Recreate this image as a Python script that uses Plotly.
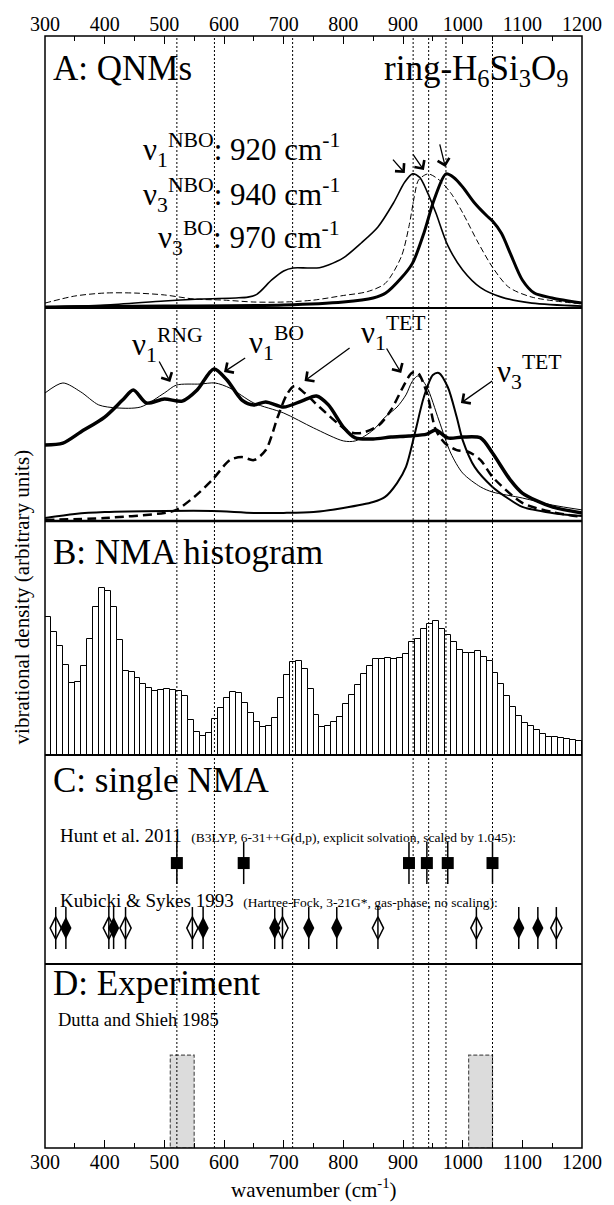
import plotly.graph_objects as go

W, H = 614, 1205
ML, MR, MT, MB = 45, 23, 36, 57
PH = H - MT - MB
FONT = "Liberation Serif, Times New Roman, Times, serif"

def py(pix):
    return (H - MB - pix) / PH

# ---------------- data ----------------
# Panel A (upper): QNM spectra
nbo1_x = [300, 400, 500, 560, 620, 640, 655, 680, 700, 716, 740, 760, 775, 800, 830, 858, 884, 903, 916,
          928, 940, 955, 975, 1000, 1030, 1065, 1116, 1200]
nbo1_y = [0.4, 1.1, 2.6, 3.3, 3.7, 4.0, 5.0, 10.3, 13.6, 14.7, 14.7, 14.8, 15.8, 18.4, 23.9, 29.8, 38.6, 46.3, 49.3,
          48, 43, 35, 23, 14, 7.5, 4, 1.8, 0.7]
nbo3_x = [300, 350, 400, 450, 500, 550, 600, 650, 700, 750, 800, 840, 870, 897, 910, 919, 926, 942, 961, 981,
          1000, 1026, 1050, 1077, 1116, 1200]
nbo3_y = [1.8, 4.4, 5.5, 5.5, 4.8, 3.3, 2.9, 2.2, 2.2, 2.9, 4.6, 6.0, 9.0, 18.8, 30, 41, 47, 49.3, 47, 42,
          35, 24, 15, 7.7, 4, 1.5]
bo3_x = [300, 500, 700, 800, 850, 871, 897, 916, 935, 952, 972, 985, 1000, 1020, 1040, 1050, 1065, 1080, 1100,
         1120, 1150, 1200]
bo3_y = [0.4, 0.7, 1.1, 2.2, 3.7, 5.5, 11, 16.5, 27.5, 39.7, 49.3, 48, 44.5, 38.6, 34, 32, 27.5, 20, 10.3,
         5.5, 3.7, 1.8]

# Panel A (lower): four QNM spectra
rng_x = [300, 330, 360, 390, 420, 460, 500, 520, 560, 585, 610, 650, 700, 750, 800, 820, 850, 870, 890, 905,
         915, 925, 940, 960, 980, 1000, 1030, 1050, 1100, 1150, 1200]
rng_y = [60.1, 64.8, 60.6, 54.5, 53.1, 53.5, 60.1, 63.8, 64.3, 64.8, 62.4, 55.4, 50.7, 43.7, 37.6, 37.6, 42.7,
         48.8, 53.5, 59.2, 65.3, 68.1, 62.9, 47.4, 31.9, 22.5, 16, 13.6, 10.8, 7.5, 5.2]
bo1_x = [300, 330, 360, 400, 430, 448, 470, 500, 530, 555, 583, 605, 630, 650, 670, 700, 730, 755, 775, 800,
         820, 850, 880, 910, 940, 955, 975, 1000, 1030, 1050, 1080, 1100, 1150, 1200]
bo1_y = [35.7, 36.6, 41.8, 48.8, 56.8, 61.5, 55.4, 57.3, 56.3, 61.5, 71.4, 66.2, 56.8, 54.5, 55.9, 53.5, 56.3,
         58.7, 54.5, 44.1, 39, 38.5, 39.4, 39.9, 40.8, 42.7, 39, 39.4, 39, 31.9, 19.2, 13.1, 6.6, 3.8]
tet1_x = [300, 400, 500, 520, 550, 580, 610, 630, 650, 670, 690, 705, 718, 735, 760, 790, 810, 830, 860, 880,
          900, 915, 925, 940, 955, 970, 990, 1010, 1030, 1050, 1100, 1150, 1200]
tet1_y = [0.5, 1.4, 3.8, 5.2, 11.3, 19.2, 28.6, 30, 28.6, 33.3, 48.8, 59.2, 63.4, 60.1, 53.5, 46, 41.8, 41.3,
          45.1, 52.1, 62.9, 69.5, 69.5, 60.1, 42.7, 36.6, 33.3, 32.4, 28.6, 20.7, 8.5, 4.2, 1.9]
tet3_x = [300, 350, 400, 500, 580, 650, 700, 750, 800, 850, 870, 890, 905, 920, 935, 950, 960, 975, 990, 1000,
          1020, 1050, 1075, 1100, 1150, 1200]
tet3_y = [1.4, 3.3, 4.2, 4.7, 4.7, 3.8, 3.8, 4.2, 6.1, 8.9, 11.3, 17.8, 25.4, 41.3, 58.2, 68.5, 69.5, 62.9,
          48.8, 38, 25.4, 16, 10.8, 6.6, 3.8, 2.3]

# Panel B: NMA histogram (10 cm-1 bins, left edges)
hist_left = list(range(300, 1200, 10))
hist_counts = [415, 370, 327, 270, 215, 220, 267, 347, 445, 500, 493, 443, 345, 253, 250, 230, 212, 200, 193, 195,
               197, 195, 193, 177, 105, 68, 58, 65, 107, 140, 170, 188, 187, 155, 127, 100, 85, 88, 111, 170,
               240, 278, 283, 258, 197, 120, 85, 87, 100, 115, 152, 180, 210, 243, 268, 288, 288, 290, 287, 290,
               302, 340, 347, 377, 393, 403, 377, 360, 340, 315, 307, 305, 313, 295, 283, 245, 212, 177, 145, 118,
               97, 88, 75, 62, 55, 53, 50, 47, 45, 43]

# Panel C: single normal-mode analyses
hunt_wn = [521, 633, 910, 940, 975, 1050]
kub_open_wn = [318, 407, 435, 547, 698, 858, 1023, 1157]
kub_filled_wn = [335, 415, 565, 685, 742, 789, 1094, 1126]

# Panel D: experiment bands
exp_lo = [510, 1010]
exp_hi = [550, 1050]

# reference (dotted) lines
ref_lines = [521, 584, 715, 917, 943, 972, 1050]

tick_vals = list(range(300, 1201, 100))
tick_text = [str(v) for v in tick_vals]

# ---------------- figure ----------------
fig = go.Figure()

def line(x, y, yaxis, width, dash="solid"):
    fig.add_trace(go.Scatter(x=x, y=y, mode="lines", xaxis="x", yaxis=yaxis,
                             line=dict(color="black", width=width, dash=dash, shape="spline", smoothing=0.8),
                             showlegend=False, hoverinfo="skip"))

line(nbo3_x, nbo3_y, "y", 1.0, "6px,3px")
line(nbo1_x, nbo1_y, "y", 1.6)
line(bo3_x, bo3_y, "y", 3.0)

line(rng_x, rng_y, "y2", 1.0)
line(tet3_x, tet3_y, "y2", 2.0)
line(tet1_x, tet1_y, "y2", 2.5, "9px,5px")
line(bo1_x, bo1_y, "y2", 3.5)

fig.add_trace(go.Bar(x=[v + 5 for v in hist_left], y=hist_counts, width=10, xaxis="x", yaxis="y3",
                     marker=dict(color="white", line=dict(color="black", width=1)),
                     showlegend=False, hoverinfo="skip"))

HUNT_Y, KUB_Y = 0.483, 0.172
for wn_list, yv in ((hunt_wn, HUNT_Y), (kub_open_wn + kub_filled_wn, KUB_Y)):
    fig.add_trace(go.Scatter(x=wn_list, y=[yv] * len(wn_list), mode="markers", xaxis="x", yaxis="y4",
                             marker=dict(symbol="line-ns", size=30, line=dict(color="black", width=1.5)),
                             showlegend=False, hoverinfo="skip"))
fig.add_trace(go.Scatter(x=hunt_wn, y=[HUNT_Y] * len(hunt_wn), mode="markers", xaxis="x", yaxis="y4",
                         marker=dict(symbol="square", size=12, color="black"),
                         showlegend=False, hoverinfo="skip"))
fig.add_trace(go.Scatter(x=kub_open_wn, y=[KUB_Y] * len(kub_open_wn), mode="markers", xaxis="x", yaxis="y4",
                         marker=dict(symbol="diamond-tall-open", size=16, color="black", line=dict(width=1.5)),
                         showlegend=False, hoverinfo="skip"))
fig.add_trace(go.Scatter(x=kub_filled_wn, y=[KUB_Y] * len(kub_filled_wn), mode="markers", xaxis="x", yaxis="y4",
                         marker=dict(symbol="diamond-tall", size=16, color="black", line=dict(width=0)),
                         showlegend=False, hoverinfo="skip"))

# dummy trace for the top axis
fig.add_trace(go.Scatter(x=[300, 1200], y=[0, 0], xaxis="x2", yaxis="y", mode="markers",
                         marker=dict(opacity=0), showlegend=False, hoverinfo="skip"))

shapes = []
shapes.append(dict(type="rect", xref="paper", yref="paper", x0=0, x1=1, y0=0, y1=1,
                   line=dict(color="black", width=1.5), layer="above"))
for pix, w in ((308, 2), (521, 2.5), (755, 2), (964, 2)):
    shapes.append(dict(type="line", xref="paper", yref="paper", x0=0, x1=1, y0=py(pix), y1=py(pix),
                       line=dict(color="black", width=w), layer="above"))
for lo, hi in zip(exp_lo, exp_hi):
    shapes.append(dict(type="rect", xref="x", yref="y5", x0=lo, x1=hi, y0=0, y1=0.505,
                       fillcolor="#dcdcdc", line=dict(color="#555555", width=1.2, dash="4px,2px"), layer="below"))
for xv in ref_lines:
    shapes.append(dict(type="line", xref="x", yref="paper", x0=xv, x1=xv, y0=0, y1=1,
                       line=dict(color="black", width=1, dash="2px,2px"), layer="above"))

ann = []
def text(x, ypix, t, size, xanchor="left", yanchor="middle", xref="x"):
    ann.append(dict(x=x, y=py(ypix), xref=xref, yref="paper", text=t, showarrow=False,
                    xanchor=xanchor, yanchor=yanchor, font=dict(family=FONT, size=size, color="black")))

def arrow(x0, y0, x1, y1, yref):
    ann.append(dict(x=x1, y=y1, ax=x0, ay=y0, xref="x", yref=yref, axref="x", ayref=yref, text="",
                    showarrow=True, arrowhead=4, arrowsize=1.8, arrowwidth=1.3, arrowcolor="black"))

text(310, 68, "A: QNMs", 35)
text(1182, 70, "ring-H<sub>6</sub>Si<sub>3</sub>O<sub>9</sub>", 35, xanchor="right")
text(798, 150, "ν<sub>1</sub><sup>NBO</sup>: 920 cm<sup>-1</sup>", 31, xanchor="right")
text(798, 195, "ν<sub>3</sub><sup>NBO</sup>: 940 cm<sup>-1</sup>", 31, xanchor="right")
text(798, 238, "ν<sub>3</sub><sup>BO</sup>: 970 cm<sup>-1</sup>", 31, xanchor="right")

arrow(881, 55.1, 903, 49.6, "y")
arrow(915, 57.0, 935, 50.7, "y")
arrow(961, 60.7, 971, 51.8, "y")

text(442, 345, "ν<sub>1</sub><sup>RNG</sup>", 31)
text(639, 343, "ν<sub>1</sub><sup>BO</sup>", 31)
text(826, 333, "ν<sub>1</sub><sup>TET</sup>", 31)
text(1055, 372, "ν<sub>3</sub><sup>TET</sup>", 31)

arrow(490, 75.6, 510, 65.3, "y2")
arrow(638, 77.0, 600, 70.0, "y2")
arrow(813, 81.7, 735, 65.7, "y2")
arrow(871, 81.7, 897, 69.5, "y2")
arrow(1052, 66.2, 997, 55.4, "y2")

text(310, 552, "B: NMA histogram", 35)
text(310, 780, "C: single NMA", 35)
text(322, 835, "Hunt et al. 2011  <span style='font-size:13.5px'>(B3LYP, 6-31++G(d,p), explicit solvation, scaled by 1.045):</span>", 19)
text(322, 900, "Kubicki &amp; Sykes 1993  <span style='font-size:13.5px'>(Hartree-Fock, 3-21G*, gas-phase, no scaling):</span>", 19)
text(310, 983, "D: Experiment", 35)
text(318, 1020, "Dutta and Shieh 1985", 18.5)

ann.append(dict(x=(22 - ML) / (W - ML - MR), y=py(597), xref="paper", yref="paper",
                text="vibrational density (arbitrary units)", textangle=-90, showarrow=False,
                xanchor="center", yanchor="middle", font=dict(family=FONT, size=21, color="black")))
ann.append(dict(x=751, y=py(1188), xref="x", yref="paper", text="wavenumber (cm<sup>-1</sup>)",
                showarrow=False, xanchor="center", yanchor="middle",
                font=dict(family=FONT, size=21, color="black")))

xcommon = dict(range=[300, 1200], tickmode="array", tickvals=tick_vals, ticktext=tick_text,
               ticks="inside", ticklen=8, tickwidth=1.3, tickcolor="black",
               minor=dict(dtick=50, tick0=0, ticks="inside", ticklen=5, tickwidth=1.1, tickcolor="black"),
               showgrid=False, zeroline=False, showline=False,
               tickfont=dict(family=FONT, size=20, color="black"))

fig.update_layout(
    width=W, height=H, margin=dict(l=ML, r=MR, t=MT, b=MB),
    plot_bgcolor="white", paper_bgcolor="white",
    font=dict(family=FONT, color="black"),
    bargap=0, showlegend=False,
    xaxis=dict(anchor="y5", side="bottom", **xcommon),
    xaxis2=dict(anchor="y", side="top", overlaying="x", **xcommon),
    yaxis=dict(domain=[py(308), 1.0], range=[0, 100], visible=False, fixedrange=True),
    yaxis2=dict(domain=[py(521), py(308)], range=[0, 100], visible=False),
    yaxis3=dict(domain=[py(755), py(521)], range=[0, 702], visible=False),
    yaxis4=dict(domain=[py(964), py(755)], range=[0, 1], visible=False),
    yaxis5=dict(domain=[0, py(964)], range=[0, 1], visible=False),
    shapes=shapes, annotations=ann,
)

fig.write_html("out.html")
